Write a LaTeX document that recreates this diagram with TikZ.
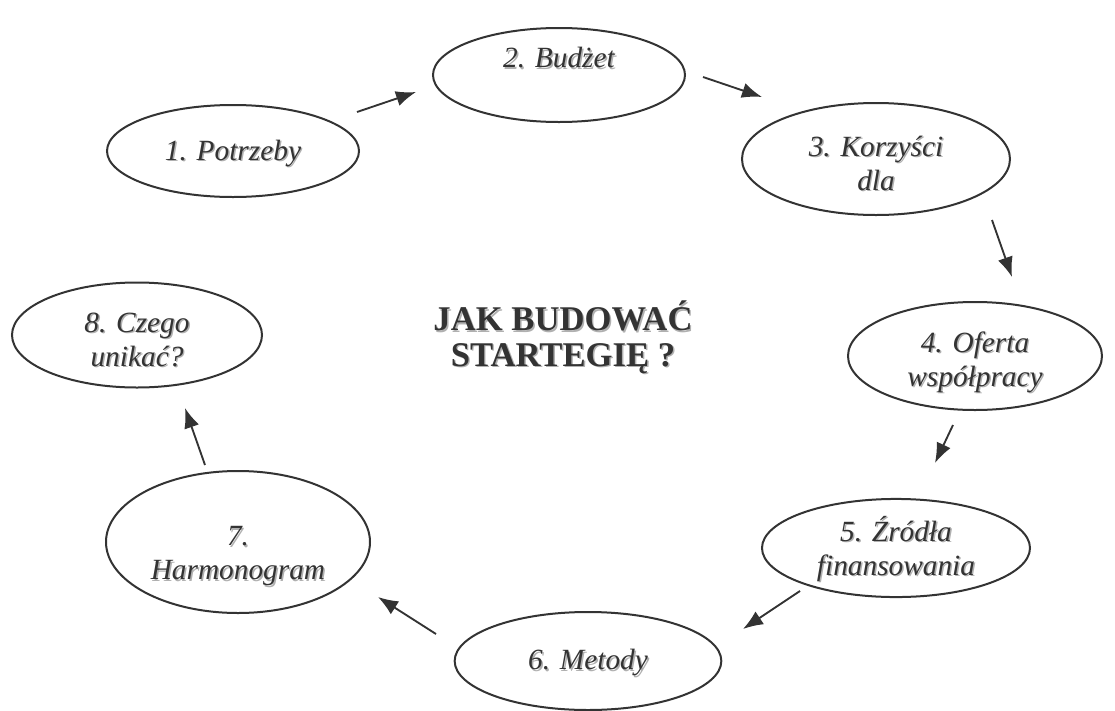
\documentclass[tikz,border=0pt]{standalone}
\usepackage{fontspec}
\setmainfont{Liberation Serif}
\usepackage{tikz}
\usetikzlibrary{positioning,shapes.geometric,arrows.meta}

\definecolor{inkgray}{HTML}{333333}
\definecolor{shadowgray}{HTML}{B0B0B0}
% text with a light drop shadow
\newcommand{\shd}[1]{\leavevmode\rlap{\kern1.1pt\raisebox{-1.1pt}{\textcolor{shadowgray}{#1}}}#1}
% lines moved up or down inside the ellipse, ellipse stays put
\newcommand{\steptext}[2]{\raisebox{#1}[\height][\depth]{\begin{tabular}{@{}c@{}}#2\end{tabular}}}

\tikzset{
  stepnode/.style={ellipse,draw=inkgray,line width=1.5pt,text=inkgray,inner sep=0pt,
    font=\fontsize{22}{25.5}\selectfont\itshape},
  arr/.style={-{Latex[length=15pt,width=11.5pt]},draw=inkgray,line width=1.4pt},
}

\begin{document}
\begin{tikzpicture}[x=0.75pt,y=-0.75pt]
\useasboundingbox (0,0) rectangle (1115,711);
%%
\node (p1) at (233,151) [stepnode,minimum width=189pt,minimum height=69pt] {\steptext{-2pt}{\shd{1. Potrzeby}}};
  \node (p2) at (559,75) [stepnode,minimum width=189pt,minimum height=70.5pt] {\steptext{10.5pt}{\shd{2. Budżet}}};
  \node (p3) at (876,159) [stepnode,minimum width=201pt,minimum height=84pt] {\steptext{-5.5pt}{\shd{3. Korzyści}\\\shd{dla}}};
  \node (p4) at (975,356) [stepnode,minimum width=190.5pt,minimum height=81pt] {\steptext{-5pt}{\shd{4. Oferta}\\\shd{współpracy}}};
  \node (p5) at (896,548) [stepnode,minimum width=201pt,minimum height=73.5pt] {\steptext{-2pt}{\shd{5. Źródła}\\\shd{finansowania}}};
  \node (p6) at (588,661) [stepnode,minimum width=200pt,minimum height=73.5pt] {\steptext{-1.5pt}{\shd{6. Metody}}};
  \node (p7) at (238,542) [stepnode,minimum width=198pt,minimum height=106.5pt] {\steptext{-10.5pt}{\shd{7.}\\\shd{Harmonogram}}};
  \node (p8) at (137,335) [stepnode,minimum width=187.5pt,minimum height=78.75pt] {\steptext{-5.5pt}{\shd{8. Czego}\\\shd{unikać?}}};
  \node (title) at (563,338) [text=inkgray,align=center,font=\fontsize{26}{26.5}\selectfont\bfseries] {\shd{JAK BUDOWAĆ}\\\shd{STARTEGIĘ ?}};
  \draw [arr] ([shift={(124,-39)}]p1.center) -- ([shift={(-143,17)}]p2.center);
  \draw [arr] ([shift={(144,2)}]p2.center) -- ([shift={(-114,-62)}]p3.center);
  \draw [arr] ([shift={(116,61)}]p3.center) -- ([shift={(37,-79)}]p4.center);
  \draw [arr] ([shift={(-22,69)}]p4.center) -- ([shift={(39,-85)}]p5.center);
  \draw [arr] ([shift={(-96,43)}]p5.center) -- ([shift={(155,-32)}]p6.center);
  \draw [arr] ([shift={(-152,-27)}]p6.center) -- ([shift={(140,55)}]p7.center);
  \draw [arr] ([shift={(-33,-77)}]p7.center) -- ([shift={(48,73)}]p8.center);
%
\end{tikzpicture}
\end{document}
